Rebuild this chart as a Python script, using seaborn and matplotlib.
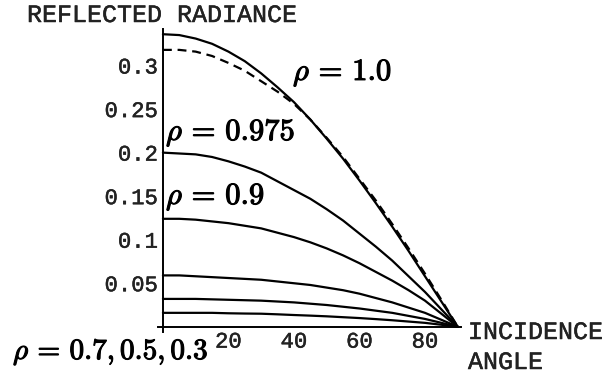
import matplotlib
matplotlib.use("Agg")
import matplotlib.pyplot as plt
import matplotlib.patheffects as pe
import seaborn as sns
import numpy as np

# Data (incidence angle in degrees)
angles = [0, 5, 10, 15, 20, 25, 30, 35, 40, 45, 50, 55, 60, 65, 70, 75, 80, 85, 90]
rho_1_0 = [0.336, 0.335, 0.331, 0.325, 0.316, 0.305, 0.291, 0.275, 0.258, 0.238,
           0.216, 0.193, 0.168, 0.142, 0.115, 0.087, 0.058, 0.029, 0.0]
lambert = [0.318, 0.318, 0.316, 0.311, 0.303, 0.294, 0.282, 0.270, 0.256, 0.238,
           0.217, 0.195, 0.170, 0.145, 0.118, 0.090, 0.061, 0.031, 0.0]
rho_0_975 = [0.200, 0.199, 0.198, 0.195, 0.190, 0.184, 0.177, 0.167, 0.157, 0.147,
             0.135, 0.122, 0.107, 0.092, 0.076, 0.058, 0.040, 0.020, 0.0]
rho_0_9 = [0.124, 0.124, 0.123, 0.121, 0.119, 0.116, 0.113, 0.108, 0.103, 0.097,
           0.090, 0.082, 0.073, 0.063, 0.053, 0.042, 0.030, 0.015, 0.0]
rho_0_7 = [0.059, 0.059, 0.058, 0.057, 0.056, 0.055, 0.054, 0.052, 0.050, 0.048,
           0.045, 0.042, 0.038, 0.033, 0.028, 0.022, 0.016, 0.008, 0.0]
rho_0_5 = [0.032, 0.032, 0.032, 0.0315, 0.031, 0.0305, 0.030, 0.029, 0.028, 0.0265,
           0.025, 0.023, 0.021, 0.0185, 0.016, 0.0125, 0.009, 0.0045, 0.0]
rho_0_3 = [0.016, 0.016, 0.016, 0.016, 0.0155, 0.0152, 0.015, 0.0143, 0.0135, 0.0128,
           0.012, 0.011, 0.010, 0.0088, 0.0075, 0.006, 0.0045, 0.0023, 0.0]

xticks = [20, 40, 60, 80]
yticks = [0.05, 0.1, 0.15, 0.2, 0.25, 0.3]
ytick_labels = ["0.05", "0.1", "0.15", "0.2", "0.25", "0.3"]

sns.set_style("white")
plt.rcParams["mathtext.fontset"] = "cm"

fig = plt.figure(figsize=(6.07, 3.74), dpi=100)
ax = fig.add_axes([0.2603, 0.1123, 0.4992, 0.8102])

for vals in [rho_1_0, rho_0_975, rho_0_9, rho_0_7, rho_0_5, rho_0_3]:
    sns.lineplot(x=angles, y=vals, color="black", linewidth=1.6, ax=ax)
sns.lineplot(x=angles, y=lambert, color="black", linewidth=1.6, ax=ax,
             linestyle=(0, (4, 2.6)))

ax.set_xlim(-1.5, 91)
ax.set_ylim(-0.006, 0.342)
for s in ["top", "right"]:
    ax.spines[s].set_visible(False)
ax.spines["left"].set_position(("data", 0))
ax.spines["bottom"].set_position(("data", 0))
for s in ["left", "bottom"]:
    ax.spines[s].set_color("black")
    ax.spines[s].set_linewidth(1.4)

mono = "Liberation Mono"
thick = [pe.withStroke(linewidth=0.35, foreground="#222222")]
ax.set_xticks(xticks)
ax.set_xticklabels([str(v) for v in xticks], family=mono, fontsize=16, color="#222222",
                   path_effects=thick)
ax.set_yticks(yticks)
ax.set_yticklabels(ytick_labels, family=mono, fontsize=16, color="#222222",
                   path_effects=thick)
ax.tick_params(axis="both", direction="inout", length=5, width=1.2, color="black", pad=1)
ax.set_xlabel("")
ax.set_ylabel("")

mt = dict(family=mono, fontsize=18, ha="left", va="center", color="#222222",
          path_effects=thick)
fig.text(27 / 607, 1 - 15 / 374, "REFLECTED RADIANCE", **mt)
fig.text(468 / 607, 1 - 332 / 374, "INCIDENCE", **mt)
fig.text(468 / 607, 1 - 362 / 374, "ANGLE", **mt)

bold = [pe.withStroke(linewidth=0.8, foreground="black")]
lab = dict(ha="left", va="center", color="black", path_effects=bold)
fig.text(293 / 607, 1 - 73 / 374, r"$\rho\,=\,1.0$", fontsize=22, **lab)
fig.text(166 / 607, 1 - 133 / 374, r"$\rho\,=\,0.975$", fontsize=22, **lab)
fig.text(166 / 607, 1 - 197 / 374, r"$\rho\,=\,0.9$", fontsize=22, **lab)
fig.text(13 / 607, 1 - 352 / 374, r"$\rho\,=\,0.7,0.5,0.3$", fontsize=21, **lab)

fig.savefig("out.png", dpi=100)
